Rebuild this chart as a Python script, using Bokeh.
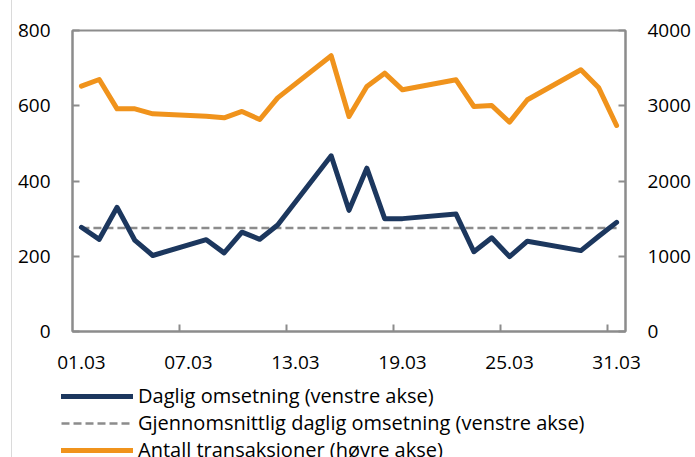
from bokeh.plotting import figure
from bokeh.layouts import column
from bokeh.models import (Range1d, LinearAxis, FixedTicker, Legend, LegendItem, ColumnDataSource)
from bokeh.embed import file_html
from bokeh.resources import INLINE

# ---- data (March, business days) ----
days = [1, 2, 3, 4, 5, 8, 9, 10, 11, 12, 15, 16, 17, 18, 19, 22, 23, 24, 25, 26, 29, 30, 31]
daily_turnover = [277, 245, 330, 242, 202, 244, 209, 264, 245, 283, 467, 322, 434, 300, 300,
                  312, 212, 249, 199, 240, 215, 253, 290]
transactions = [3260, 3349, 2959, 2959, 2893, 2861, 2840, 2924, 2817, 3105, 3665, 2857, 3256,
                3433, 3212, 3345, 2990, 3003, 2782, 3079, 3478, 3238, 2738]
avg_days = [1, 31]
avg_turnover = [275, 275]

tick_days = [1, 7, 13, 19, 25, 31]
tick_labels = ["01.03", "07.03", "13.03", "19.03", "25.03", "31.03"]
tick_marks = [6.5, 12.5, 18.5, 24.5, 30.5]
left_ticks = [0, 200, 400, 600, 800]
right_ticks = [0, 1000, 2000, 3000, 4000]

series_labels = ["Daglig omsetning (venstre akse)",
                 "Gjennomsnittlig daglig omsetning (venstre akse)",
                 "Antall transaksjoner (høyre akse)"]

BLUE = "#1c375e"
ORANGE = "#f0931c"
GREY = "#8c8c8c"
AXIS = "#8c8c8c"
FONT = "Open Sans"
FS = "19px"
FRAME_LINE = {"background": "linear-gradient(to right, #ffffff 11px, #dadada 11px, "
                            "#dadada 12px, #ffffff 12px)"}

p = figure(width=695, height=381, output_backend="svg", toolbar_location=None,
           x_range=Range1d(0.5, 31.5), y_range=Range1d(0, 800),
           min_border_left=72, min_border_right=70, min_border_top=30, min_border_bottom=50)
p.extra_y_ranges = {"right": Range1d(0, 4000)}
p.xgrid.visible = False
p.ygrid.visible = False
p.outline_line_color = AXIS
p.outline_line_width = 2
p.background_fill_color = "white"
p.border_fill_alpha = 0
p.styles = FRAME_LINE

src = ColumnDataSource(dict(day=days, turnover=daily_turnover, trans=transactions))
src_avg = ColumnDataSource(dict(day=avg_days, avg=avg_turnover))

avg_style = dict(line_color=GREY, line_width=2.5, line_dash="8 4")
trans_style = dict(line_color=ORANGE, line_width=5, line_join="round", line_cap="round")
turn_style = dict(line_color=BLUE, line_width=5, line_join="round", line_cap="round")

p.line("day", "avg", source=src_avg, **avg_style)
p.line("day", "trans", source=src, y_range_name="right", **trans_style)
p.line("day", "turnover", source=src, **turn_style)

def style_axis(ax):
    ax.axis_line_color = AXIS
    ax.axis_line_width = 2
    ax.major_tick_line_color = AXIS
    ax.major_tick_line_width = 2
    ax.major_tick_in = 7
    ax.major_tick_out = 0
    ax.minor_tick_line_color = None
    ax.major_label_text_font = FONT
    ax.major_label_text_font_size = FS
    ax.major_label_text_color = "#000000"
    ax.major_label_standoff = 22

# x axis
xa = p.xaxis[0]
style_axis(xa)
xa.ticker = FixedTicker(ticks=tick_days, minor_ticks=tick_marks)
xa.major_label_overrides = {d: l for d, l in zip(tick_days, tick_labels)}
xa.major_tick_line_color = None
xa.minor_tick_line_color = AXIS
xa.minor_tick_line_width = 2
xa.minor_tick_in = 7
xa.minor_tick_out = 0
xa.major_label_standoff = 24

# left axis
ya = p.yaxis[0]
style_axis(ya)
ya.ticker = FixedTicker(ticks=left_ticks)

# right axis
yr = LinearAxis(y_range_name="right", ticker=FixedTicker(ticks=right_ticks))
style_axis(yr)
p.add_layout(yr, "right")

# ---- legend strip below the chart (same series, drawn off-view; only the legend shows) ----
lg = figure(width=695, height=76, output_backend="svg", toolbar_location=None,
            x_range=Range1d(0.5, 31.5), y_range=Range1d(-2, -1),
            x_axis_location=None, y_axis_location=None, min_border=0)
lg.extra_y_ranges = {"right": Range1d(-2, -1)}
lg.xgrid.visible = False
lg.ygrid.visible = False
lg.outline_line_color = None
lg.border_fill_alpha = 0
lg.background_fill_alpha = 0
lg.styles = FRAME_LINE
for fig in (p, lg):
    if hasattr(fig, "frame_align"):
        fig.frame_align = False
l_turn = lg.line("day", "turnover", source=src, **turn_style)
l_avg = lg.line("day", "avg", source=src_avg, **avg_style)
l_trans = lg.line("day", "trans", source=src, y_range_name="right", **trans_style)

legend = Legend(items=[LegendItem(label=series_labels[0], renderers=[l_turn]),
                       LegendItem(label=series_labels[1], renderers=[l_avg]),
                       LegendItem(label=series_labels[2], renderers=[l_trans])],
                location=(61, -6), orientation="vertical")
legend.background_fill_alpha = 0
legend.border_line_color = None
legend.padding = 0
legend.margin = 0
legend.spacing = 0
legend.glyph_width = 72
legend.glyph_height = 20
legend.label_height = 20
legend.label_standoff = 5
legend.label_text_font = FONT
legend.label_text_font_size = "20px"
legend.label_text_color = "#000000"
lg.add_layout(legend, "center")

layout = column(p, lg, spacing=0)
open("out.html", "w").write(file_html(layout, INLINE))
